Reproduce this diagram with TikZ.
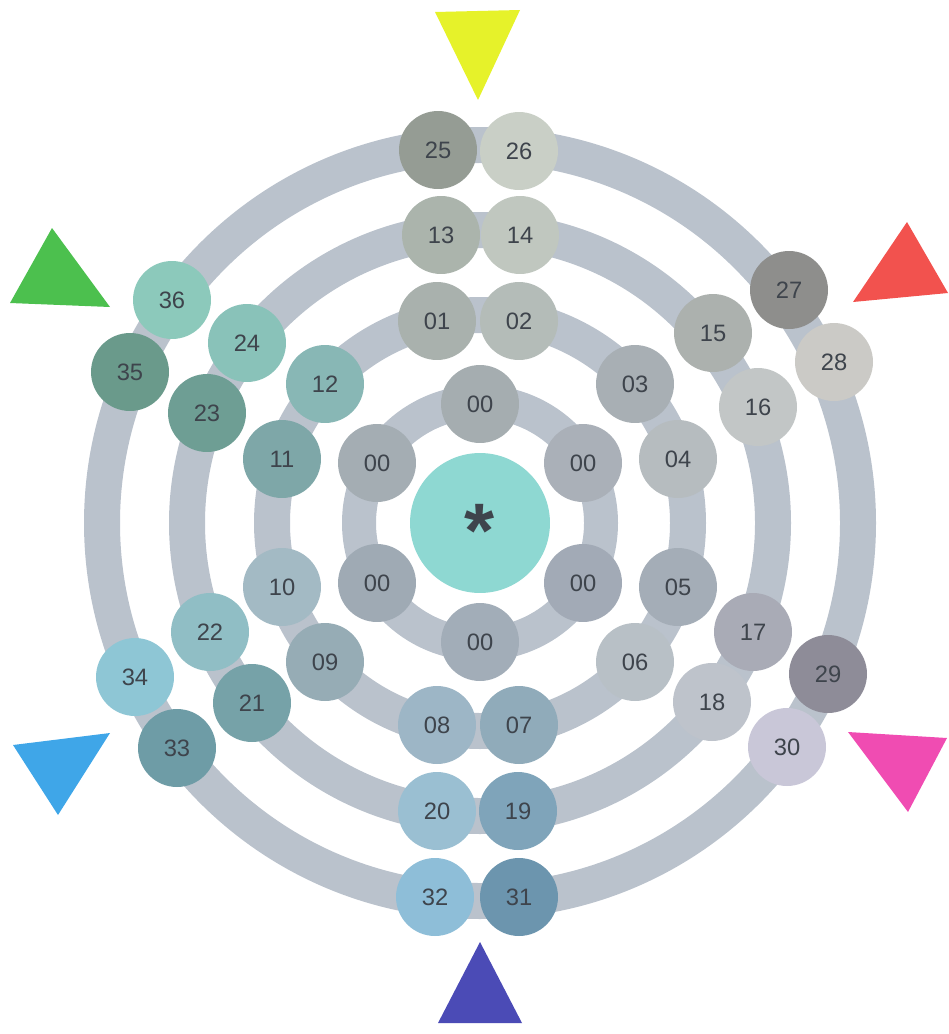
\documentclass[tikz,border=0pt]{standalone}
\usepackage{fontspec}
\setmainfont{Liberation Sans}
\usepackage{xcolor}
\usepackage{tikz}
\usetikzlibrary{backgrounds}

\definecolor{bandgray}{HTML}{BAC2CC}
\definecolor{numtext}{HTML}{3E444C}
\definecolor{hubfill}{HTML}{8ED8D2}
\definecolor{zA}{HTML}{A5ADB0}
\definecolor{zB}{HTML}{AAB0B8}
\definecolor{zC}{HTML}{A2AAB6}
\definecolor{zD}{HTML}{A2ADB8}
\definecolor{zE}{HTML}{9FAAB4}
\definecolor{zF}{HTML}{A4ADB3}
\definecolor{b01}{HTML}{A9B1AD}
\definecolor{b02}{HTML}{B4BCB8}
\definecolor{b03}{HTML}{A8AFB4}
\definecolor{b04}{HTML}{B6BCBF}
\definecolor{b05}{HTML}{A4ADB7}
\definecolor{b06}{HTML}{B8C0C6}
\definecolor{b07}{HTML}{90ABBA}
\definecolor{b08}{HTML}{9DB6C6}
\definecolor{b09}{HTML}{96ACB5}
\definecolor{b10}{HTML}{A3BAC4}
\definecolor{b11}{HTML}{7EA7A8}
\definecolor{b12}{HTML}{88B7B5}
\definecolor{b13}{HTML}{ABB4AC}
\definecolor{b14}{HTML}{C0C7BF}
\definecolor{b15}{HTML}{ACB1AE}
\definecolor{b16}{HTML}{C2C6C6}
\definecolor{b17}{HTML}{A9ABB6}
\definecolor{b18}{HTML}{BEC3CB}
\definecolor{b19}{HTML}{7FA4BA}
\definecolor{b20}{HTML}{9ABFD2}
\definecolor{b21}{HTML}{76A2A8}
\definecolor{b22}{HTML}{90BEC5}
\definecolor{b23}{HTML}{6E9E94}
\definecolor{b24}{HTML}{89C2B9}
\definecolor{b25}{HTML}{959C94}
\definecolor{b26}{HTML}{C9CFC6}
\definecolor{b27}{HTML}{8E8E8C}
\definecolor{b28}{HTML}{CBCAC6}
\definecolor{b29}{HTML}{8E8C98}
\definecolor{b30}{HTML}{C9C7D8}
\definecolor{b31}{HTML}{6C95AE}
\definecolor{b32}{HTML}{8EBED8}
\definecolor{b33}{HTML}{6E9CA6}
\definecolor{b34}{HTML}{8EC6D5}
\definecolor{b35}{HTML}{6A9A8B}
\definecolor{b36}{HTML}{8CC9BB}
\definecolor{triyellow}{HTML}{E6F22A}
\definecolor{trigreen}{HTML}{4CC04E}
\definecolor{trired}{HTML}{F2524E}
\definecolor{triblue}{HTML}{3FA6E8}
\definecolor{trimagenta}{HTML}{F04CB2}
\definecolor{triindigo}{HTML}{4B4BB6}

\begin{document}
\begin{tikzpicture}[
    x=0.02cm, y=-0.02cm,
    ball/.style={circle, inner sep=0pt, minimum size=1.56cm, fill=#1, text=numtext, font=\fontsize{13.5}{15}\selectfont},
    hub/.style={circle, inner sep=0pt, minimum size=2.8cm, fill=hubfill, text=numtext, text height=39pt, text depth=0pt, font=\fontsize{44}{44}\selectfont\bfseries},
    band/.style={draw=bandgray, line width=#1},
    band/.default=0.72cm,
    marker/.style={fill=#1},
]
\useasboundingbox (0,0) rectangle (949,1034);
\node[hub] (hub) at (480,523) {*};
\node[ball=zA] (z1) at (480,404) {00};
\node[ball=zB] (z2) at (583,463) {00};
\node[ball=zC] (z3) at (583,583) {00};
\node[ball=zD] (z4) at (480,642) {00};
\node[ball=zE] (z5) at (377,583) {00};
\node[ball=zF] (z6) at (377,463) {00};
\node[ball=b01] (n01) at (437,321) {01};
\node[ball=b02] (n02) at (519,321) {02};
\node[ball=b03] (n03) at (635,384) {03};
\node[ball=b04] (n04) at (678,459) {04};
\node[ball=b05] (n05) at (678,587) {05};
\node[ball=b06] (n06) at (635,662) {06};
\node[ball=b07] (n07) at (519,725) {07};
\node[ball=b08] (n08) at (437,725) {08};
\node[ball=b09] (n09) at (325,662) {09};
\node[ball=b10] (n10) at (282,587) {10};
\node[ball=b11] (n11) at (282,459) {11};
\node[ball=b12] (n12) at (325,384) {12};
\node[ball=b13] (n13) at (441,235) {13};
\node[ball=b14] (n14) at (520,235) {14};
\node[ball=b15] (n15) at (713,333) {15};
\node[ball=b16] (n16) at (758,407) {16};
\node[ball=b17] (n17) at (753,632) {17};
\node[ball=b18] (n18) at (712,702) {18};
\node[ball=b19] (n19) at (518,811) {19};
\node[ball=b20] (n20) at (437,811) {20};
\node[ball=b21] (n21) at (252,703) {21};
\node[ball=b22] (n22) at (210,632) {22};
\node[ball=b23] (n23) at (207,413) {23};
\node[ball=b24] (n24) at (247,343) {24};
\node[ball=b25] (n25) at (438,150) {25};
\node[ball=b26] (n26) at (519,151) {26};
\node[ball=b27] (n27) at (789,290) {27};
\node[ball=b28] (n28) at (834,362) {28};
\node[ball=b29] (n29) at (828,674) {29};
\node[ball=b30] (n30) at (787,747) {30};
\node[ball=b31] (n31) at (519,897) {31};
\node[ball=b32] (n32) at (435,897) {32};
\node[ball=b33] (n33) at (177,748) {33};
\node[ball=b34] (n34) at (135,677) {34};
\node[ball=b35] (n35) at (130,372) {35};
\node[ball=b36] (n36) at (172,300) {36};
\fill[marker=triyellow] (435,12) -- (520,10) -- (478,100) -- cycle;
\fill[marker=trigreen] (52,228) -- (10,303) -- (110,307) -- cycle;
\fill[marker=trired] (907,222) -- (853,302) -- (948,293) -- cycle;
\fill[marker=triblue] (13,745) -- (110,733) -- (58,815) -- cycle;
\fill[marker=trimagenta] (848,732) -- (947,738) -- (908,812) -- cycle;
\fill[marker=triindigo] (480,942) -- (438,1023) -- (522,1023) -- cycle;
\begin{scope}[on background layer]
\draw[band=0.68cm] (hub.center) circle[radius=121];
\draw[band] (hub.center) circle[radius=208];
\draw[band] (hub.center) circle[radius=293];
\draw[band] (hub.center) circle[radius=378];
\end{scope}
\end{tikzpicture}
\end{document}
